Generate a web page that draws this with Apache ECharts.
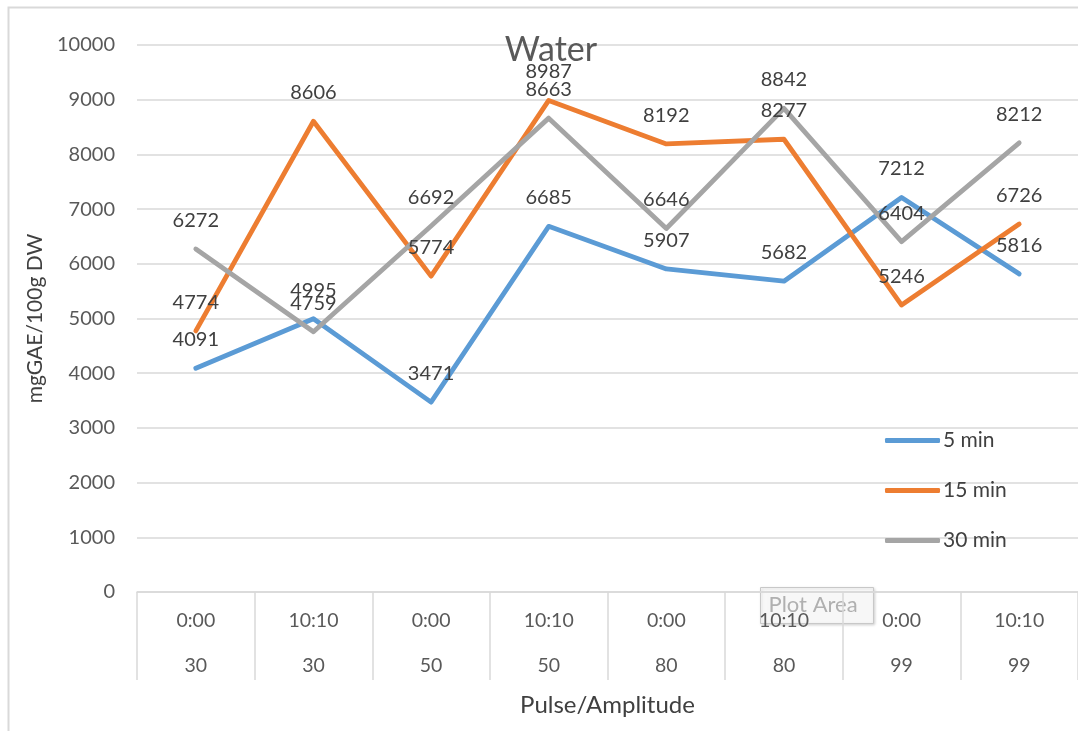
<!DOCTYPE html>
<html>
<head>
<meta charset="utf-8">
<title>Water</title>
<script src="https://cdn.jsdelivr.net/npm/echarts@6/dist/echarts.min.js"></script>
<style>
  html, body { margin: 0; padding: 0; background: #fff; }
  #chart { width: 1078px; height: 731px; }
</style>
</head>
<body>
<div id="chart"></div>
<script>
// pulse / amplitude categories
var pulses = ['0:00', '10:10', '0:00', '10:10', '0:00', '10:10', '0:00', '10:10'];
var amplitudes = ['30', '30', '50', '50', '80', '80', '99', '99'];

var seriesNames = ['5 min', '15 min', '30 min'];
var min5 = [4091, 4995, 3471, 6685, 5907, 5682, 7212, 5816];
var min15 = [4774, 8606, 5774, 8987, 8192, 8277, 5246, 6726];
var min30 = [6272, 4759, 6692, 8663, 6646, 8842, 6404, 8212];

var yTicks = { min: 0, max: 10000, step: 1000 };

var colors = ['#5B9BD5', '#ED7D31', '#A5A5A5'];
var font = 'Lato, "Open Sans", sans-serif';

var categories = pulses.map(function (p, i) { return p + '\n' + amplitudes[i]; });

var dom = document.getElementById('chart');
var myChart = echarts.init(dom);

function lineSeries(name, data, color) {
  return {
    name: name,
    type: 'line',
    data: data,
    showSymbol: true,
    symbol: 'circle',
    symbolSize: 3,
    lineStyle: { color: color, width: 4.8, cap: 'round', join: 'round' },
    itemStyle: { color: color },
    label: {
      show: true,
      position: 'top',
      distance: 17,
      color: '#404040',
      fontSize: 20,
      fontFamily: font
    },
    labelLayout: { hideOverlap: false },
    emphasis: { disabled: true }
  };
}

var option = {
  animation: false,
  color: colors,
  title: {
    text: 'Water',
    left: 546,
    top: 28,
    textAlign: 'center',
    textStyle: { color: '#595959', fontSize: 34, fontWeight: 'normal', fontFamily: font }
  },
  grid: { left: 137, right: -4, top: 45, bottom: 139, containLabel: false },
  legend: {
    orient: 'vertical',
    left: 880,
    top: 425,
    icon: 'roundRect',
    itemWidth: 55,
    itemHeight: 5,
    itemGap: 29,
    textStyle: { color: '#404040', fontSize: 21, fontFamily: font, padding: [0, 0, 0, -2] },
    data: seriesNames
  },
  xAxis: {
    type: 'category',
    data: categories,
    boundaryGap: true,
    name: 'Pulse/Amplitude',
    nameLocation: 'middle',
    nameGap: 91,
    nameTextStyle: { color: '#404040', fontSize: 24, fontFamily: font },
    axisLine: { lineStyle: { color: '#d9d9d9', width: 1.5 } },
    axisTick: { show: true, interval: 0, length: 88, lineStyle: { color: '#d9d9d9', width: 1.5 } },
    axisLabel: {
      interval: 0,
      margin: 6,
      color: '#595959',
      fontSize: 19.5,
      lineHeight: 45,
      fontFamily: font
    },
    splitLine: { show: false }
  },
  yAxis: {
    type: 'value',
    min: yTicks.min,
    max: yTicks.max,
    interval: yTicks.step,
    name: 'mgGAE/100g DW',
    nameLocation: 'middle',
    nameGap: 90,
    nameTextStyle: { color: '#404040', fontSize: 21, fontFamily: font },
    axisLine: { show: false },
    axisTick: { show: false },
    axisLabel: {
      color: '#595959', fontSize: 20, margin: 22, fontFamily: font,
      formatter: function (v) { return String(v); }
    },
    splitLine: { lineStyle: { color: '#d9d9d9', width: 1.5 } }
  },
  graphic: [
    {
      type: 'rect',
      left: 6, top: 5,
      shape: { width: 1100, height: 760 },
      style: { fill: 'none', stroke: '#d9d9d9', lineWidth: 2 },
      silent: true, z: -1
    },
    {
      type: 'group',
      left: 760, top: 587,
      children: [
        {
          type: 'rect',
          shape: { x: 0, y: 0, width: 113, height: 36 },
          style: { fill: 'rgba(255,255,255,0.8)', stroke: '#c8c8c8', lineWidth: 1, shadowBlur: 3, shadowColor: 'rgba(0,0,0,0.2)', shadowOffsetX: 1, shadowOffsetY: 1 }
        },
        {
          type: 'text',
          x: 8, y: 6,
          style: { text: 'Plot Area', fill: '#b0b0b0', fontSize: 22, fontFamily: font }
        }
      ],
      z: 100
    }
  ],
  series: [
    lineSeries(seriesNames[0], min5, colors[0]),
    lineSeries(seriesNames[1], min15, colors[1]),
    lineSeries(seriesNames[2], min30, colors[2])
  ]
};

if (option && typeof option === 'object') {
  myChart.setOption(option, true);
}
</script>
</body>
</html>
